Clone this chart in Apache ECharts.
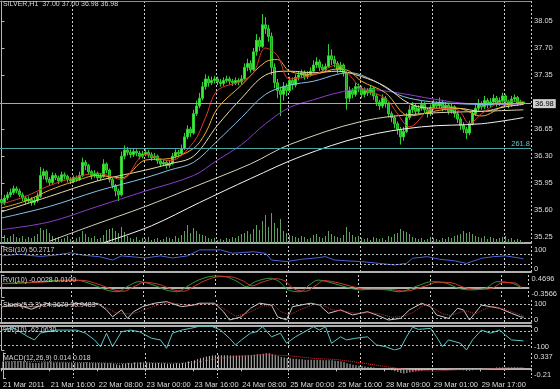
<!DOCTYPE html>
<html><head><meta charset="utf-8">
<script src="https://cdn.jsdelivr.net/npm/echarts@6/dist/echarts.min.js"></script>
<style>html,body{margin:0;padding:0;background:#000;}#c{width:560px;height:389px;}</style>
</head><body><div id="c"></div>
<script>
const N = 177;
const FONT = 'Liberation Sans';
const xTickLabels = ['21 Mar 2011','21 Mar 16:00','22 Mar 08:00','23 Mar 00:00','23 Mar 16:00','24 Mar 08:00','25 Mar 00:00','25 Mar 16:00','28 Mar 09:00','29 Mar 01:00','29 Mar 17:00'];
const priceTicks = [35.25,35.60,35.95,36.30,36.65,37.35,37.70,38.05];

const opens = [
35.74,35.70,35.76,35.80,35.83,35.88,35.85,35.80,35.76,35.72,
35.74,35.70,35.73,35.78,36.05,36.10,36.00,35.96,36.05,36.02,
35.98,36.06,36.04,36.00,35.98,36.02,36.00,36.05,36.22,36.18,
36.10,36.05,36.08,36.02,36.04,36.20,36.12,36.00,35.92,35.85,
35.80,36.30,36.38,36.35,36.32,36.36,36.34,36.30,36.33,36.35,
36.32,36.28,36.30,36.24,36.20,36.22,36.18,36.21,36.30,36.35,
36.33,36.40,36.55,36.65,36.60,36.85,36.95,37.05,37.20,37.30,
37.25,37.28,37.30,37.26,37.24,37.28,37.30,37.27,37.25,37.28,
37.26,37.30,37.45,37.50,37.42,37.65,37.80,37.72,38.00,37.95,
37.85,37.45,37.25,37.15,37.10,37.20,37.15,37.28,37.22,37.32,
37.35,37.38,37.33,37.36,37.40,37.48,37.52,37.45,37.42,37.46,
37.60,37.55,37.50,37.42,37.48,37.38,37.05,37.15,37.10,37.20,
37.18,37.10,37.15,37.12,37.18,37.08,37.00,36.95,37.05,36.98,
36.85,36.80,36.72,36.65,36.55,36.62,36.80,36.90,36.95,36.88,
36.92,36.97,36.90,36.85,36.93,36.98,36.95,37.00,36.92,36.96,
36.88,36.94,36.85,36.78,36.70,36.65,36.60,36.72,36.85,36.92,
36.98,36.94,37.02,36.96,37.00,37.05,36.98,37.02,37.08,37.00,
36.96,37.04,37.06,36.98,37.00];
const closes = [
35.70,35.76,35.80,35.83,35.88,35.85,35.80,35.76,35.72,35.74,
35.70,35.73,35.78,36.05,36.10,36.00,35.96,36.05,36.02,35.98,
36.06,36.04,36.00,35.98,36.02,36.00,36.05,36.22,36.18,36.10,
36.05,36.08,36.02,36.04,36.20,36.12,36.00,35.92,35.85,35.80,
36.30,36.38,36.35,36.32,36.36,36.34,36.30,36.33,36.35,36.32,
36.28,36.30,36.24,36.20,36.22,36.18,36.21,36.30,36.35,36.33,
36.40,36.55,36.65,36.60,36.85,36.95,37.05,37.20,37.30,37.25,
37.28,37.30,37.26,37.24,37.28,37.30,37.27,37.25,37.28,37.26,
37.30,37.45,37.50,37.42,37.65,37.80,37.72,38.00,37.95,37.85,
37.45,37.25,37.15,37.10,37.20,37.15,37.28,37.22,37.32,37.35,
37.38,37.33,37.36,37.40,37.48,37.52,37.45,37.42,37.46,37.60,
37.55,37.50,37.42,37.48,37.38,37.05,37.15,37.10,37.20,37.18,
37.10,37.15,37.12,37.18,37.08,37.00,36.95,37.05,36.98,36.85,
36.80,36.72,36.65,36.55,36.62,36.80,36.90,36.95,36.88,36.92,
36.97,36.90,36.85,36.93,36.98,36.95,37.00,36.92,36.96,36.88,
36.94,36.85,36.78,36.70,36.65,36.60,36.72,36.85,36.92,36.98,
36.94,37.02,36.96,37.00,37.05,36.98,37.02,37.08,37.00,36.96,
37.04,37.06,36.98,37.00,36.98];
const lows = [
35.60,35.67,35.73,35.77,35.80,35.82,35.77,35.72,35.68,35.69,
35.66,35.67,35.70,35.76,36.00,35.96,35.92,35.94,35.99,35.94,
35.96,36.00,35.96,35.94,35.95,35.97,35.98,36.03,36.12,36.06,
36.00,36.02,35.98,35.99,36.02,36.08,35.96,35.88,35.78,35.72,
35.78,36.26,36.31,36.28,36.29,36.30,36.26,36.27,36.30,36.28,
36.24,36.25,36.20,36.16,36.17,36.14,36.15,36.19,36.27,36.29,
36.30,36.38,36.52,36.55,36.58,36.82,36.92,37.02,37.16,37.20,
37.22,37.24,37.22,37.20,37.21,37.25,37.23,37.21,37.22,37.22,
37.23,37.28,37.40,37.38,37.40,37.60,37.66,37.70,37.88,37.78,
37.35,37.18,37.05,36.82,37.02,37.08,37.12,37.16,37.19,37.28,
37.31,37.29,37.30,37.33,37.37,37.44,37.40,37.38,37.39,37.44,
37.48,37.45,37.37,37.39,37.33,36.90,37.00,37.05,37.07,37.13,
37.05,37.06,37.08,37.09,37.03,36.95,36.90,36.92,36.93,36.80,
36.74,36.66,36.58,36.45,36.50,36.60,36.77,36.86,36.84,36.85,
36.89,36.86,36.80,36.82,36.90,36.91,36.92,36.88,36.89,36.84,
36.85,36.80,36.73,36.64,36.60,36.52,36.57,36.70,36.82,36.89,
36.90,36.91,36.92,36.93,36.97,36.94,36.95,36.99,36.96,36.92,
36.94,37.00,36.95,36.96,36.98];
const highs = [
35.80,35.80,35.84,35.88,35.92,35.91,35.88,35.83,35.79,35.78,
35.77,35.77,35.83,36.16,36.14,36.12,36.03,36.09,36.08,36.05,
36.10,36.09,36.06,36.03,36.05,36.05,36.10,36.28,36.25,36.20,
36.12,36.12,36.10,36.08,36.26,36.22,36.14,36.02,35.94,35.88,
36.36,36.44,36.42,36.39,36.40,36.39,36.37,36.37,36.39,36.38,
36.35,36.34,36.32,36.27,36.26,36.25,36.25,36.34,36.39,36.38,
36.45,36.60,36.70,36.68,36.90,37.02,37.12,37.26,37.36,37.34,
37.33,37.34,37.33,37.30,37.32,37.34,37.33,37.30,37.32,37.31,
37.35,37.50,37.56,37.54,37.70,37.88,37.84,38.14,38.10,38.00,
37.90,37.50,37.30,37.20,37.26,37.24,37.33,37.32,37.36,37.40,
37.42,37.41,37.40,37.45,37.54,37.58,37.55,37.49,37.50,37.75,
37.68,37.60,37.53,37.52,37.50,37.40,37.20,37.18,37.25,37.24,
37.21,37.19,37.18,37.22,37.20,37.11,37.03,37.10,37.08,37.00,
36.88,36.83,36.75,36.68,36.68,36.86,36.96,37.00,36.98,36.96,
37.02,37.00,36.93,36.97,37.03,37.01,37.06,37.03,37.00,36.99,
36.98,36.96,36.88,36.81,36.74,36.68,36.76,36.90,36.97,37.04,
37.01,37.08,37.05,37.05,37.10,37.08,37.06,37.12,37.10,37.03,
37.08,37.10,37.08,37.03,37.00];
const volumes = [
600,800,500,700,900,600,500,700,400,600,500,700,900,
1500,1300,1400,1000,
700,500,600,400,500,700,400,300,500,600,
1200,900,
600,500,700,400,500,
800,1300,1400,1500,1200,1000,1600,1100,
700,500,400,600,300,500,400,600,300,400,500,300,400,600,500,400,700,500,800,
1200,1800,1000,1500,1200,900,
800,700,500,400,500,300,400,300,500,400,600,500,700,900,
1000,1200,900,1400,1800,1300,2200,2800,1600,3000,2000,1500,2400,
1200,1000,800,700,600,500,700,600,400,500,800,900,600,500,700,1200,900,700,600,500,800,
1600,1100,800,600,700,500,
400,500,300,600,500,400,500,300,700,600,900,1000,
1400,1200,1100,900,
600,500,400,500,300,400,600,500,400,300,500,400,600,500,700,
800,900,1200,1000,1100,900,700,
600,500,700,400,600,500,400,500,600,700,400,500,300,400,300,100];

// moving averages, read at sparse bars: [bar index, price]
const maRed = [[0,35.68],[8,35.78],[16,35.92],[24,36.02],[32,36.08],[40,36.00],[48,36.32],[56,36.24],[64,36.48],[68,36.80],[72,37.15],[80,37.27],[84,37.38],[88,37.70],[92,37.60],[96,37.30],[104,37.35],[112,37.48],[116,37.35],[120,37.18],[128,37.05],[132,36.85],[136,36.68],[144,36.92],[152,36.90],[156,36.72],[160,36.85],[168,37.01],[174,37.01]];
const maOrange = [[0,35.63],[8,35.72],[16,35.86],[24,35.97],[32,36.05],[40,36.02],[48,36.25],[56,36.27],[64,36.40],[68,36.60],[72,36.92],[80,37.22],[88,37.52],[92,37.55],[96,37.40],[104,37.36],[112,37.43],[116,37.40],[120,37.27],[128,37.12],[136,36.82],[144,36.88],[152,36.92],[160,36.82],[168,36.96],[174,36.99]];
const maTan = [[0,35.58],[16,35.78],[32,35.98],[48,36.12],[56,36.20],[64,36.30],[72,36.70],[80,37.05],[88,37.35],[96,37.40],[104,37.38],[112,37.40],[120,37.33],[128,37.20],[136,36.98],[144,36.92],[152,36.92],[160,36.88],[168,36.94],[174,36.97]];
const maBlue = [[0,35.50],[16,35.65],[32,35.85],[48,36.02],[56,36.12],[64,36.22],[72,36.50],[80,36.80],[88,37.10],[96,37.22],[104,37.27],[112,37.36],[116,37.38],[124,37.28],[132,37.10],[140,37.02],[152,36.98],[164,36.97],[174,36.99]];
const maPurple = [[0,35.35],[16,35.45],[32,35.65],[48,35.85],[64,36.05],[72,36.25],[80,36.45],[88,36.72],[96,36.93],[104,37.03],[112,37.12],[120,37.17],[132,37.12],[144,37.04],[156,36.98],[174,36.97]];
const maCream = [[16,35.20],[30,35.40],[48,35.65],[64,35.90],[83,36.20],[96,36.45],[120,36.75],[140,36.85],[160,36.88],[174,36.90]];
const maWhite = [[34,35.18],[50,35.40],[66,35.70],[83,36.01],[100,36.30],[120,36.55],[140,36.68],[160,36.72],[174,36.80]];

const rsi = [[0,62],[6,68],[13,60],[18,65],[23,74],[27,65],[33,58],[37,46],[40,62],[44,58],[48,54],[53,62],[57,54],[62,62],[66,85],[73,85],[77,72],[84,78],[88,72],[90,46],[95,40],[100,49],[104,53],[108,59],[111,46],[115,43],[120,40],[126,33],[131,27],[135,33],[137,53],[142,59],[146,49],[151,43],[155,33],[160,53],[164,59],[168,62],[173,53],[174,50.27]];
const rviMain = [[0,0.15],[10,0.20],[18,0.26],[25,0.28],[31,0.09],[35,-0.09],[39,-0.16],[42,0.03],[46,0.22],[51,0.09],[55,-0.09],[59,-0.16],[62,0.03],[66,0.28],[71,0.43],[75,0.41],[79,0.22],[82,0.03],[85,0.22],[90,0.35],[93,0.22],[96,-0.09],[100,-0.16],[103,0.09],[106,0.28],[111,0.16],[115,0.03],[120,-0.09],[124,-0.07],[129,-0.09],[133,-0.16],[140,0.09],[144,0.22],[149,0.16],[153,-0.03],[157,-0.09],[162,-0.03],[166,0.22],[171,0.16],[174,-0.0028]];
const rviSignal = [[0,0.14],[12,0.19],[20,0.25],[27,0.27],[33,0.10],[37,-0.07],[41,-0.14],[44,0.01],[48,0.20],[53,0.11],[57,-0.07],[61,-0.14],[64,0.01],[68,0.25],[73,0.41],[77,0.40],[81,0.24],[84,0.06],[87,0.19],[92,0.33],[95,0.24],[98,-0.06],[102,-0.14],[105,0.06],[108,0.26],[113,0.17],[117,0.05],[122,-0.07],[126,-0.07],[131,-0.08],[135,-0.14],[142,0.06],[146,0.20],[151,0.17],[155,0.00],[159,-0.07],[164,-0.04],[168,0.19],[172,0.17],[174,0.01]];
const stochMain = [[0,70],[5,80],[10,60],[15,85],[20,75],[25,85],[30,80],[32,86],[35,57],[37,27],[40,57],[42,20],[44,49],[47,71],[51,86],[55,93],[60,71],[64,78],[66,86],[71,86],[74,49],[76,13],[80,27],[83,64],[86,86],[90,78],[92,27],[95,13],[97,71],[103,86],[106,78],[109,42],[113,57],[117,35],[122,49],[125,35],[129,13],[133,20],[136,57],[139,78],[140,86],[143,71],[145,35],[149,20],[152,64],[154,57],[156,13],[160,78],[163,71],[166,64],[170,42],[173,27],[174,24.37]];
const stochSignal = [[0,72],[5,75],[10,70],[15,75],[20,78],[25,80],[30,82],[33,78],[36,60],[38,45],[41,40],[43,40],[45,45],[48,60],[52,78],[56,88],[61,80],[65,78],[68,84],[72,80],[75,55],[78,30],[81,38],[84,55],[87,75],[91,75],[93,50],[96,35],[99,55],[104,80],[107,78],[110,58],[114,52],[118,42],[123,45],[126,40],[130,25],[134,28],[137,45],[140,72],[142,80],[144,65],[147,40],[150,32],[153,48],[155,52],[158,40],[161,60],[164,72],[167,62],[171,45],[174,30.95]];
const wpr = [[0,-17],[4,-8],[9,-46],[11,-58],[13,-29],[18,-17],[25,-17],[28,-30],[31,-58],[33,-86],[35,-30],[37,-86],[40,-24],[43,-17],[46,-24],[50,-51],[53,-58],[55,-93],[57,-30],[60,-17],[63,-10],[66,-1],[70,-1],[73,-17],[76,-51],[78,-79],[80,-58],[83,-30],[85,-24],[87,-3],[90,-45],[93,-30],[95,-72],[98,-45],[102,-17],[104,-3],[106,-17],[108,-3],[110,-72],[113,-45],[115,-58],[118,-51],[122,-45],[125,-79],[128,-86],[131,-100],[133,-93],[135,-45],[137,-5],[139,-14],[143,-10],[145,-45],[147,-86],[149,-58],[153,-72],[155,-100],[157,-58],[160,-17],[163,-30],[166,-17],[168,-38],[170,-58],[174,-62.06]];
const macdHist = [
0.15,0.15,0.15,0.15,0.16,0.16,0.16,0.15,0.14,0.13,0.12,0.12,0.12,0.13,0.14,0.14,
0.14,0.13,0.13,0.13,0.13,0.13,0.12,0.12,0.12,0.12,0.12,0.13,0.13,0.13,0.12,0.12,
0.12,0.12,0.12,0.12,0.11,0.10,0.09,0.08,0.10,0.11,0.12,0.12,0.13,0.13,0.13,0.13,
0.13,0.13,0.12,0.12,0.12,0.11,0.11,0.10,0.10,0.10,0.11,0.11,0.12,0.13,0.15,0.16,
0.18,0.20,0.22,0.24,0.26,0.27,0.28,0.29,0.29,0.29,0.29,0.29,0.28,0.28,0.28,0.28,
0.28,0.28,0.29,0.29,0.30,0.31,0.31,0.32,0.33,0.33,0.31,0.29,0.27,0.25,0.24,0.23,
0.22,0.21,0.21,0.20,0.20,0.19,0.19,0.19,0.19,0.19,0.19,0.18,0.18,0.18,0.18,0.17,
0.16,0.15,0.14,0.11,0.10,0.08,0.07,0.06,0.05,0.04,0.03,0.03,0.02,0.01,0.00,-0.01,
-0.02,-0.03,-0.04,-0.06,-0.08,-0.10,-0.11,-0.10,-0.09,-0.08,-0.07,-0.06,-0.05,-0.04,-0.04,-0.03,
-0.03,-0.02,-0.01,-0.01,0.00,0.00,0.00,-0.01,-0.02,-0.03,-0.04,-0.05,-0.05,-0.04,-0.03,-0.02,
-0.01,0.00,0.00,0.01,0.01,0.02,0.02,0.02,0.02,0.02,0.02,0.02,0.02,0.015,0.014];
const macdSignal = [[0,0.15],[10,0.15],[20,0.135],[30,0.125],[40,0.11],[50,0.12],[60,0.115],[66,0.15],[72,0.22],[80,0.27],[88,0.30],[95,0.28],[104,0.22],[112,0.19],[120,0.12],[128,0.04],[136,-0.04],[144,-0.06],[152,-0.03],[160,-0.02],[168,0.01],[174,0.018]];

const bidPrice = 36.98;
const fibPrice = 36.40;

// categories: hourly bars, weekend skipped
const categories = [];
(function(){
  const mon = ['Jan','Feb','Mar','Apr','May','Jun','Jul','Aug','Sep','Oct','Nov','Dec'];
  let d = Date.UTC(2011,2,21,0);
  for (let i=0;i<N;i++){
    const dt = new Date(d);
    categories.push(dt.getUTCDate()+' '+mon[dt.getUTCMonth()]+' '+String(dt.getUTCHours()).padStart(2,'0')+':00');
    d += 3600000;
    const nx = new Date(d);
    if (nx.getUTCDay()===6) d = Date.UTC(nx.getUTCFullYear(), nx.getUTCMonth(), nx.getUTCDate()+2, 1);
  }
})();

const candleData = opens.map((o,i)=>[o, closes[i], lows[i], highs[i]]);

const grids = [[1,242],[246,26],[275,22],[300,23],[326,24],[353,25]];
const LBL = '#dcdcdc';
const fs = 7.5;

const xAxis = [];
for (let g=0; g<6; g++){
  xAxis.push({type:'category', gridIndex:g, data:categories, boundaryGap:true,
    axisLine:{show:true, lineStyle:{color:'#b0b0b0', width:2}},
    axisTick:{show:g===5, interval:(i)=>i%16===0 && i/16<xTickLabels.length, length:3, lineStyle:{color:'#c8c8c8'}},
    axisLabel:{show:g===5, interval:(i)=>i%16===0 && i/16<xTickLabels.length,
      formatter:(v,i)=>xTickLabels[i/16]||'', color:LBL, fontSize:fs, fontFamily:FONT, align:'left', margin:3},
    splitLine:{show:true, interval:(i)=>i>0 && i%24===0, lineStyle:{color:'#cfcfcf', type:[2,2], width:1}}
  });
}
for (let g=0; g<6; g++) xAxis.push({type:'value', gridIndex:g, min:-0.5, max:N-0.5, show:false});
xAxis.push({type:'category', gridIndex:0, position:'top', data:categories, axisLine:{show:true, lineStyle:{color:'#909090', width:1}}, axisTick:{show:false}, axisLabel:{show:false}, splitLine:{show:false}});

const rich = {
  t:{padding:[7,0,0,0], color:LBL, fontSize:fs, fontFamily:FONT},
  b:{padding:[0,0,7,0], color:LBL, fontSize:fs, fontFamily:FONT}
};
function subY(g, min, max, vals, fmt){
  return {type:'value', gridIndex:g, position:'right', min:min, max:max,
    axisLine:{show:true, lineStyle:{color:'#b8b8b8'}},
    axisTick:{show:true, length:3, customValues:vals, lineStyle:{color:'#b8b8b8'}},
    axisLabel:{show:true, customValues:vals, hideOverlap:false, showMinLabel:true, showMaxLabel:true,
      color:LBL, fontSize:fs, fontFamily:FONT, margin:3, rich:rich,
      formatter:(v)=>{ const s = fmt(v); if (Math.abs(v-max)<1e-9) return '{t|'+s+'}'; if (Math.abs(v-min)<1e-9) return '{b|'+s+'}'; return s; }},
    splitLine:{show:false}};
}
const yAxis = [
  {type:'value', gridIndex:0, position:'right', min:35.177, max:38.308,
    axisLine:{show:true, lineStyle:{color:'#b8b8b8'}},
    axisTick:{show:true, length:3, customValues:priceTicks, lineStyle:{color:'#b8b8b8'}},
    axisLabel:{customValues:priceTicks, formatter:(v)=>v.toFixed(2), color:LBL, fontSize:fs, fontFamily:FONT, margin:3},
    splitLine:{show:false}},
  {type:'value', gridIndex:0, min:0, max:24300, show:false},
  subY(1, 0, 100, [0,30,70,100], v=>String(Math.round(v))),
  subY(2, -0.3566, 0.4696, [-0.3566,0,0.4696], v=>Math.abs(v)<1e-9?'0.00':v.toFixed(4)),
  subY(3, 0, 100, [0,20,80,100], v=>String(Math.round(v))),
  subY(4, -100, 0, [-100,-80,-20,0], v=>String(Math.round(v))),
  subY(5, -0.21, 0.337, [-0.21,0,0.337], v=>Math.abs(v)<1e-9?'0.00':String(v))
];

function maLine(data, color){
  return {type:'line', xAxisIndex:6, yAxisIndex:0, data:data, showSymbol:false, smooth:0.35, lineStyle:{color:color, width:1}, silent:true};
}
function levels(vals){
  return {symbol:'none', silent:true, label:{show:false}, lineStyle:{color:'#bdbdbd', type:[2,2], width:1}, data:vals.map(v=>({yAxis:v}))};
}

const titleStyle = {color:'#d8d8d8', fontSize:7, fontFamily:FONT, fontWeight:'normal'};
const option = {
  backgroundColor:'#000',
  animation:false,
  title:[
    {text:'SILVER,H1  37.00 37.00 36.98 36.98', left:3, top:1, textStyle:titleStyle, padding:0},
    {text:'RSI(10) 50.2717', left:3, top:247, textStyle:titleStyle, padding:0},
    {text:'RVI(10) -0.0028 0.0100', left:3, top:277, textStyle:titleStyle, padding:0},
    {text:'Stoch(5,3,3) 24.3679 30.9483', left:3, top:302, textStyle:titleStyle, padding:0},
    {text:'%R(10) -62.0630', left:3, top:327, textStyle:titleStyle, padding:0},
    {text:'MACD(12,26,9) 0.014 0.018', left:3, top:355, textStyle:titleStyle, padding:0}
  ],
  grid: grids.map(g=>({left:0, right:29, top:g[0], height:g[1]})),
  xAxis: xAxis,
  yAxis: yAxis,
  series:[
    {type:'bar', xAxisIndex:0, yAxisIndex:1, data:volumes, barWidth:1, itemStyle:{color:'#5e9e5e'}, silent:true},
    {type:'candlestick', xAxisIndex:0, yAxisIndex:0, data:candleData, barWidth:2,
      itemStyle:{color:'#3cf03c', color0:'#1ea81e', borderColor:'#2fd02f', borderColor0:'#2fd02f', borderWidth:1},
      markLine:{symbol:'none', silent:true, data:[
        {yAxis:bidPrice, lineStyle:{color:'#a8a8a8', type:'solid', width:1},
          label:{show:true, position:'end', distance:2, formatter:bidPrice.toFixed(2), color:'#000', backgroundColor:'#d0d0d0', padding:[1,2,0,2], fontSize:fs, fontFamily:FONT}},
        {yAxis:fibPrice, lineStyle:{color:'#4aa6a6', type:'solid', width:1},
          label:{show:true, position:'insideEndTop', distance:1, formatter:'261.8', color:'#5ec8c8', fontSize:fs, fontFamily:FONT}}
      ]}},
    maLine(maWhite,'#f4f4f4'),
    maLine(maCream,'#d8d0b8'),
    maLine(maPurple,'#8a3ec8'),
    maLine(maBlue,'#86c2e6'),
    maLine(maTan,'#eadcaa'),
    maLine(maOrange,'#f0b030'),
    maLine(maRed,'#e03a2a'),
    {type:'line', xAxisIndex:7, yAxisIndex:2, data:rsi, showSymbol:false, lineStyle:{color:'#4a62d8', width:1}, markLine:levels([70,30])},
    {type:'line', xAxisIndex:8, yAxisIndex:3, data:rviMain, showSymbol:false, smooth:0.3, lineStyle:{color:'#2e9a3a', width:1}},
    {type:'line', xAxisIndex:8, yAxisIndex:3, data:rviSignal, showSymbol:false, smooth:0.3, lineStyle:{color:'#d03a2a', width:1}},
    {type:'line', xAxisIndex:9, yAxisIndex:4, data:stochMain, showSymbol:false, lineStyle:{color:'#c8c8c8', width:1}, markLine:levels([80,20])},
    {type:'line', xAxisIndex:9, yAxisIndex:4, data:stochSignal, showSymbol:false, lineStyle:{color:'#d03030', width:1, type:'dotted'}},
    {type:'line', xAxisIndex:10, yAxisIndex:5, data:wpr, showSymbol:false, lineStyle:{color:'#5cc4c4', width:1}, markLine:levels([-20,-80])},
    {type:'bar', xAxisIndex:5, yAxisIndex:6, data:macdHist, barWidth:1, itemStyle:{color:'#c4c4c4'}, silent:true},
    {type:'line', xAxisIndex:11, yAxisIndex:6, data:macdSignal, showSymbol:false, lineStyle:{color:'#e03030', width:1, type:'dotted'}}
  ]
};
const chart = echarts.init(document.getElementById('c'), null, {renderer:'canvas'});
chart.setOption(option);
</script></body></html>
